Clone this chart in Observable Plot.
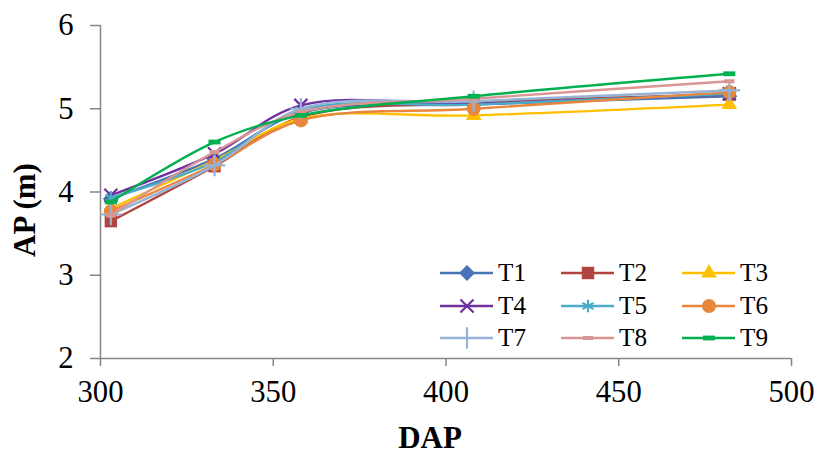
<!DOCTYPE html>
<html><head><meta charset="utf-8">
<script src="https://cdn.jsdelivr.net/npm/d3@7"></script>
<script src="https://cdn.jsdelivr.net/npm/@observablehq/plot@0.6"></script>
<style>
body{margin:0;background:#fff;}
#wrap{position:relative;width:817px;height:454px;overflow:hidden;}
.item{position:absolute;height:32px;display:flex;align-items:center;}
.item span{line-height:32px;color:#000;margin-left:4px;}
</style></head>
<body><div id="wrap"></div>
<script>
const dap = [303, 333, 358, 408, 482];
const seriesNames = ["T1","T2","T3","T4","T5","T6","T7","T8","T9"];
const T1 = [3.92, 4.40, 4.95, 5.05, 5.15];
const T2 = [3.65, 4.31, 4.90, 5.07, 5.17];
const T3 = [3.80, 4.38, 4.88, 4.92, 5.05];
const T4 = [3.96, 4.46, 5.04, 5.06, 5.18];
const T5 = [3.93, 4.36, 4.98, 5.05, 5.18];
const T6 = [3.77, 4.33, 4.86, 5.00, 5.20];
const T7 = [3.73, 4.32, 5.00, 5.09, 5.22];
const T8 = [3.72, 4.48, 4.96, 5.12, 5.33];
const T9 = [3.88, 4.60, 4.92, 5.15, 5.42];
const seriesValues = [T1,T2,T3,T4,T5,T6,T7,T8,T9];
const xTicks = [300, 350, 400, 450, 500];
const yTicks = [2, 3, 4, 5, 6];

// pick an installed Times-like serif
const canvas = document.createElement("canvas");
const cx = canvas.getContext("2d");
function w(text, font){ cx.font = font; return cx.measureText(text).width; }
const candidates = ["Liberation Serif","Times New Roman","Tinos","Nimbus Roman","Nimbus Roman No9 L","FreeSerif","Noto Serif","DejaVu Serif"];
let fam = "serif";
for (const c of candidates) {
  const probe = "300 DAP T1 mmmWWiil";
  if (Math.abs(w(probe, `100px "${c}", monospace`) - w(probe, "100px monospace")) > 0.5) { fam = c; break; }
}
const FONT = `"${fam}", serif`;
function fit(text, weight, target){ return target / w(text, `${weight} 100px ${FONT}`) * 100; }
const tickFS = Math.min(31, fit("300", "normal", 46));
const titleFS = Math.min(31, fit("DAP", "bold", 65));
const legFS = Math.min(28, fit("T1", "normal", 28));

const colors = ["#4674B4","#B0443F","#FFC000","#7030A0","#4BACC6","#E8863E","#95B3D7","#D99694","#00B050"];
const dash = {draw(ctx, size){ const r = Math.sqrt(size/Math.PI); ctx.rect(-r*1.5, -r*0.6, r*3, r*1.2); }};
const sym = [
  {symbol:"diamond2", r:7.2, filled:true},
  {symbol:"square", r:7, filled:true},
  {symbol:"triangle", r:5.8, filled:true},
  {symbol:"times", r:6, filled:false},
  {symbol:"asterisk", r:6, filled:false},
  {symbol:"circle", r:7, filled:true},
  {symbol:"plus", r:7, filled:false},
  {symbol:dash, r:3.4, filled:true},
  {symbol:dash, r:4, filled:true}
];

const marks = [
  Plot.ruleX([300], {stroke:"#868686", strokeWidth:1.5}),
  Plot.ruleY([2], {stroke:"#868686", strokeWidth:1.5}),
  Plot.axisX({ticks:xTicks, tickSize:8, tickPadding:14, fontSize:tickFS, label:null, stroke:"#868686", strokeWidth:1.5, tickFormat:d=>String(d)}),
  Plot.axisY({ticks:yTicks, tickSize:10, tickPadding:17, fontSize:tickFS, label:null, stroke:"#868686", strokeWidth:1.5, tickFormat:d=>String(d)})
];
seriesValues.forEach((vals, i) => {
  const data = dap.map((d, j) => ({dap:d, ap:vals[j]}));
  marks.push(Plot.line(data, {x:"dap", y:"ap", stroke:colors[i], strokeWidth:2.4, curve:"catmull-rom"}));
  const s = sym[i];
  marks.push(Plot.dot(data, {x:"dap", y:"ap", symbol:s.symbol, r:s.r,
    fill: s.filled ? colors[i] : "none",
    stroke: s.filled ? "none" : colors[i],
    strokeWidth: s.filled ? 0 : 2.2}));
});

const chart = Plot.plot({
  width:817, height:454,
  marginLeft:100, marginRight:26, marginTop:25, marginBottom:96,
  style:{fontFamily:FONT, color:"#000", background:"#fff", overflow:"visible"},
  x:{domain:[300,500]},
  y:{domain:[2,6]},
  marks
});
const svg = d3.select(chart);
svg.append("text").attr("x",430).attr("y",448).attr("text-anchor","middle").attr("font-family",FONT)
  .attr("font-size",titleFS).attr("font-weight","bold").attr("fill","#000").text("DAP");
svg.append("text").attr("transform","translate(35,210) rotate(-90)").attr("text-anchor","middle").attr("font-family",FONT)
  .attr("font-size",titleFS).attr("font-weight","bold").attr("fill","#000").text("AP (m)");

const wrap = document.getElementById("wrap");
wrap.style.fontFamily = FONT;
wrap.appendChild(chart);

const typeMap = {diamond2:d3.symbolDiamond2, square:d3.symbolSquare, triangle:d3.symbolTriangle, times:d3.symbolTimes, asterisk:d3.symbolAsterisk, circle:d3.symbolCircle, plus:d3.symbolPlus};
seriesNames.forEach((name, i) => {
  const col = i % 3, row = Math.floor(i / 3);
  const item = document.createElement("div");
  item.className = "item";
  item.style.left = (440 + col*121) + "px";
  item.style.top = (273 + row*32.5 - 16) + "px";
  const s = sym[i];
  const ls = d3.create("svg").attr("width",54).attr("height",32);
  ls.append("line").attr("x1",0).attr("x2",53).attr("y1",16).attr("y2",16)
    .attr("stroke",colors[i]).attr("stroke-width",2.4);
  const type = typeof s.symbol === "string" ? typeMap[s.symbol] : s.symbol;
  ls.append("path").attr("transform","translate(27,16)")
    .attr("d", d3.symbol(type, s.r*s.r*Math.PI)())
    .attr("fill", s.filled ? colors[i] : "none")
    .attr("stroke", s.filled ? "none" : colors[i])
    .attr("stroke-width", s.filled ? 0 : 2.2);
  item.appendChild(ls.node());
  const sp = document.createElement("span");
  sp.textContent = name;
  sp.style.fontSize = legFS + "px";
  item.appendChild(sp);
  wrap.appendChild(item);
});
</script>
</body></html>
